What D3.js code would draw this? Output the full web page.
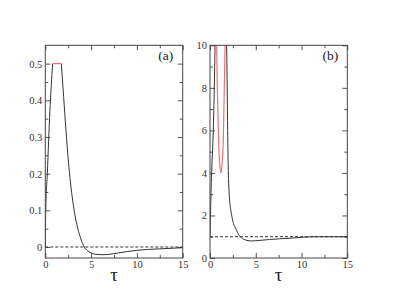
<!DOCTYPE html>
<html>
<head>
<meta charset="utf-8">
<script src="https://cdn.jsdelivr.net/npm/d3@7"></script>
<style>
  body { margin: 0; background: #fff; }
  svg { display: block; }
  text { font-family: "Liberation Serif", "Times New Roman", Times, serif; }
</style>
</head>
<body>
<div id="chart"></div>
<script>
const WIDTH = 393, HEIGHT = 304;

// ---- data ----
const xTicks = [0, 5, 10, 15];
const xMinor = [2.5, 7.5, 12.5];

// panel (a)
const aYTicks = [0, 0.1, 0.2, 0.3, 0.4, 0.5];
const aYMinor = [0.05, 0.15, 0.25, 0.35, 0.45];
const aRise = [[0, 0], [0.05, 0.1], [0.22, 0.2], [0.5, 0.37], [0.8, 0.5]];
const aFlat = [[0.8, 0.5], [1.75, 0.5]];
const aDecay = [[1.75, 0.5], [2.0, 0.41], [2.25, 0.32], [2.5, 0.24], [2.75, 0.175], [3.0, 0.125],
  [3.25, 0.085], [3.5, 0.055], [3.75, 0.032], [4.0, 0.014], [4.26, 0], [4.6, -0.01],
  [5.0, -0.016], [5.5, -0.02], [6.2, -0.021], [6.8, -0.0205], [8, -0.016], [10, -0.009],
  [12.5, -0.005], [15, -0.002]];
const aRef = 0;

// panel (b)
const bYTicks = [0, 2, 4, 6, 8, 10];
const bYMinor = [1, 3, 5, 7, 9];
const bRise = [[0, 1], [0.05, 2], [0.18, 4], [0.36, 6], [0.47, 8], [0.55, 10], [0.6, 11.5]];
const bDecay = [[1.78, 11.5], [1.82, 10], [1.88, 8], [1.93, 6], [2.0, 4.1], [2.1, 3.0], [2.37, 2.0],
  [2.9, 1.3], [3.3, 1.0], [3.8, 0.86], [4.5, 0.8], [5.5, 0.83], [6.5, 0.87], [8.7, 0.93],
  [10.2, 0.98], [12, 1.0], [15, 1.0]];
const bRed = [[0.7, 11.5], [0.73, 10], [0.8, 8], [0.91, 6], [1.06, 4.4], [1.2, 4.0], [1.33, 4.5],
  [1.45, 5.5], [1.56, 8], [1.64, 10], [1.67, 11.5]];
const bRef = 1;

const svg = d3.select("#chart").append("svg")
  .attr("width", WIDTH).attr("height", HEIGHT);

function panel(id, x0, x1, yDomain, yTicks, yMinor, yFmt, blacks, reds, ref, label) {
  const x = d3.scaleLinear().domain([0, 15]).range([x0, x1]);
  const y = d3.scaleLinear().domain(yDomain).range([258, 45.3]);
  const g = svg.append("g");

  g.append("clipPath").attr("id", id)
    .append("rect").attr("x", x0).attr("y", 45.3).attr("width", x1 - x0).attr("height", 258 - 45.3);

  // axes: inward ticks on all four sides
  const axes = [
    [d3.axisBottom(x).tickValues(xTicks).tickSize(-5).tickPadding(3).tickFormat(d3.format("d")), `translate(0,258)`],
    [d3.axisBottom(x).tickValues(xMinor).tickSize(-3).tickFormat(""), `translate(0,258)`],
    [d3.axisTop(x).tickValues(xTicks).tickSize(-5).tickFormat(""), `translate(0,45.3)`],
    [d3.axisTop(x).tickValues(xMinor).tickSize(-3).tickFormat(""), `translate(0,45.3)`],
    [d3.axisLeft(y).tickValues(yTicks).tickSize(-5).tickPadding(3).tickFormat(yFmt), `translate(${x0},0)`],
    [d3.axisLeft(y).tickValues(yMinor).tickSize(-3).tickFormat(""), `translate(${x0},0)`],
    [d3.axisRight(y).tickValues(yTicks).tickSize(-5).tickFormat(""), `translate(${x1},0)`],
    [d3.axisRight(y).tickValues(yMinor).tickSize(-3).tickFormat(""), `translate(${x1},0)`]
  ];
  axes.forEach(([ax, tr]) => {
    const a = g.append("g").attr("transform", tr).call(ax)
      .attr("font-family", null).attr("font-size", null);
    a.select(".domain").remove();
    a.selectAll(".tick line").attr("stroke", "#555");
    a.selectAll(".tick text").attr("fill", "#333").style("font-size", "10.5px");
  });

  // dashed reference line
  g.append("line")
    .attr("x1", x(0)).attr("x2", x(15)).attr("y1", y(ref)).attr("y2", y(ref))
    .attr("stroke", "#333").attr("stroke-dasharray", "3,2").attr("stroke-width", 1);

  const line = d3.line().x(d => x(d[0])).y(d => y(d[1])).curve(d3.curveMonotoneX);
  const curves = g.append("g").attr("clip-path", `url(#${id})`);
  blacks.forEach(s => curves.append("path").attr("d", line(s))
    .attr("fill", "none").attr("stroke", "#333").attr("stroke-width", 1));
  reds.forEach(s => curves.append("path").attr("d", line(s))
    .attr("fill", "none").attr("stroke", "#f07070").attr("stroke-width", 1.2));

  // frame
  g.append("rect").attr("x", x0).attr("y", 45.3).attr("width", x1 - x0).attr("height", 258 - 45.3)
    .attr("fill", "none").attr("stroke", "#444").attr("stroke-width", 1);

  g.append("text").attr("x", (x0 + x1) / 2).attr("y", 281)
    .attr("text-anchor", "middle")
    .style("font-size", "19px").attr("fill", "#222")
    .text("τ");

  g.append("text").attr("x", x1 - 17).attr("y", 59.5)
    .attr("text-anchor", "middle")
    .style("font-size", "13.5px").attr("fill", "#222")
    .text(label);
}

panel("clipA", 45.3, 182.7, [-0.03, 0.55], aYTicks, aYMinor,
  d => d === 0 ? "0" : d3.format(".1f")(d), [aRise, aDecay], [aFlat], aRef, "(a)");
panel("clipB", 210, 347.3, [0, 10], bYTicks, bYMinor,
  d3.format("d"), [bRise, bDecay], [bRed], bRef, "(b)");
</script>
</body>
</html>
